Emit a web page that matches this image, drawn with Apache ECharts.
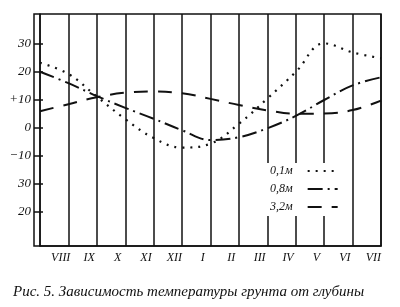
<!DOCTYPE html>
<html>
<head>
<meta charset="utf-8">
<script src="https://cdn.jsdelivr.net/npm/echarts@6/dist/echarts.min.js"></script>
<style>
html,body{margin:0;padding:0;background:#fff;}
#c{width:400px;height:307px;}
</style>
</head>
<body>
<div id="c"></div>
<script>
// Month boundaries (vertical lines) and month labels
const boundaries = [0, 1, 2, 3, 4, 5, 6, 7, 8, 9, 10, 11, 12];
const months = ['VIII', 'IX', 'X', 'XI', 'XII', 'I', 'II', 'III', 'IV', 'V', 'VI', 'VII'];
// Temperature (°C) at each boundary
const depth01 = [23.3, 19.3, 11.2, 3.2, -3.6, -7.0, -5.6, 1.5, 10.5, 20.0, 30.2, 27.0, 24.9];
const depth08 = [20.1, 16.0, 11.4, 7.2, 3.3, -0.8, -4.3, -3.3, -0.1, 4.3, 10.0, 15.2, 18.1];
const depth32 = [6.0, 8.5, 11.0, 12.6, 13.0, 12.4, 10.4, 8.2, 6.3, 5.1, 5.2, 6.4, 9.8];
// Y ticks and their printed labels
const yTickValues = [30, 20, 10, 0, -10, -20, -30];
const yTickLabels = ['30', '20', '+10', '0', '\u221210', '30', '20'];
const seriesNames = ['0,1м', '0,8м', '3,2м'];
const caption = 'Рис. 5. Зависимость температуры грунта от глубины';

const yMin = -42.14, yMax = 40.71;
const serif = '"Liberation Serif", "DejaVu Serif", serif';
const ink = '#111';

function pts(vals) { return boundaries.map((x, i) => [x, vals[i]]); }

const chart = echarts.init(document.getElementById('c'), null, {renderer: 'canvas'});
chart.setOption({
  animation: false,
  backgroundColor: '#fff',
  title: {
    text: caption,
    left: 8, top: 280,
    textStyle: {fontFamily: serif, fontStyle: 'italic', fontWeight: 'normal', fontSize: 15, color: ink}
  },
  grid: [
    {left: 40, right: 19, top: 14, bottom: 61, containLabel: false},
    {left: 34, right: 19, top: 14, bottom: 61, show: true, borderColor: ink, borderWidth: 1.5, backgroundColor: 'transparent'}
  ],
  xAxis: [
    {type: 'value', gridIndex: 0, min: 0, max: 12, interval: 1,
     axisLine: {show: true, onZero: false, lineStyle: {color: ink, width: 1.5}},
     axisTick: {show: false}, axisLabel: {show: false},
     splitLine: {show: true, lineStyle: {color: ink, width: 1.5}}},
    {type: 'category', gridIndex: 0, data: months, boundaryGap: true, position: 'bottom',
     axisLine: {show: false, onZero: false}, axisTick: {show: false}, splitLine: {show: false},
     axisLabel: {fontFamily: serif, fontStyle: 'italic', fontSize: 12, color: ink, margin: 6, padding: [0, 0, 0, 13], interval: 0}},
    {type: 'value', gridIndex: 1, show: false, min: 0, max: 1}
  ],
  yAxis: [
    {type: 'value', gridIndex: 0, min: yMin, max: yMax,
     axisLine: {show: true, onZero: false, lineStyle: {color: ink, width: 1.5}},
     axisTick: {show: true, inside: false, length: 6, customValues: yTickValues, lineStyle: {color: ink, width: 1.5}},
     axisLabel: {customValues: yTickValues, margin: 9, fontFamily: serif, fontStyle: 'italic', fontSize: 13, color: ink,
       formatter: v => { const i = yTickValues.indexOf(Math.round(v)); return i >= 0 ? yTickLabels[i] : ''; }},
     splitLine: {show: false}},
    {type: 'value', gridIndex: 0, min: yMin, max: yMax, position: 'left',
     axisLine: {show: false},
     axisTick: {show: true, inside: true, length: 3, customValues: yTickValues, lineStyle: {color: ink, width: 1.5}},
     axisLabel: {show: false}, splitLine: {show: false}},
    {type: 'value', gridIndex: 1, show: false, min: 0, max: 1}
  ],
  legend: {
    orient: 'vertical', left: 265, top: 163, align: 'right',
    backgroundColor: '#fff', padding: [2, 6, 3, 5],
    itemWidth: 30, itemHeight: 14, itemGap: 6,
    itemStyle: {color: 'transparent', borderWidth: 0, opacity: 0},
    textStyle: {fontFamily: serif, fontStyle: 'italic', fontSize: 12, color: ink, padding: [0, 10, 0, 0]},
    data: seriesNames
  },
  series: [
    {name: seriesNames[0], type: 'line', xAxisIndex: 0, yAxisIndex: 0, data: pts(depth01), smooth: 0.4,
     symbol: 'none', lineStyle: {color: ink, width: 2.2, type: [2, 6]}, itemStyle: {color: ink}},
    {name: seriesNames[1], type: 'line', xAxisIndex: 0, yAxisIndex: 0, data: pts(depth08), smooth: 0.4,
     symbol: 'none', lineStyle: {color: ink, width: 2, type: [15, 5, 2, 5]}, itemStyle: {color: ink}},
    {name: seriesNames[2], type: 'line', xAxisIndex: 0, yAxisIndex: 0, data: pts(depth32), smooth: 0.4,
     symbol: 'none', lineStyle: {color: ink, width: 2, type: [14, 10]}, itemStyle: {color: ink}},
    {type: 'line', xAxisIndex: 2, yAxisIndex: 2, data: [], silent: true}
  ]
});
</script>
</body>
</html>
